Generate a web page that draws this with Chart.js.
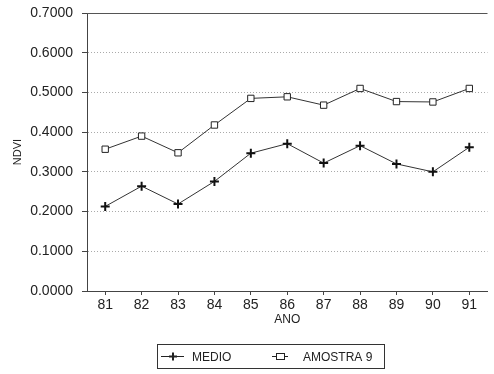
<!DOCTYPE html>
<html><head><meta charset="utf-8">
<script src="https://cdn.jsdelivr.net/npm/chart.js@4/dist/chart.umd.min.js"></script>
<style>html,body{margin:0;padding:0;background:#fff}#wrap{width:494px;height:374px;position:relative}</style>
</head><body><div id="wrap"><canvas id="c" width="494" height="374"></canvas></div>
<script>
const years = ['81','82','83','84','85','86','87','88','89','90','91'];
const medio = [0.213,0.264,0.219,0.276,0.347,0.371,0.322,0.366,0.320,0.300,0.362];
const amostra9 = [0.357,0.390,0.348,0.418,0.485,0.489,0.468,0.510,0.477,0.476,0.510];
const seriesNames = ['MEDIO','AMOSTRA 9'];
const yTicks = [0,0.1,0.2,0.3,0.4,0.5,0.6,0.7];

const FONT = 'Liberation Sans, Arial, sans-serif';
const frame = {
  id:'frame',
  afterDraw(chart){
    const {ctx, chartArea:a} = chart;
    ctx.save();
    ctx.strokeStyle='#555'; ctx.lineWidth=1;
    ctx.beginPath(); ctx.moveTo(a.left, a.top+0.5); ctx.lineTo(a.right, a.top+0.5); ctx.stroke();
    // legend box
    const bx=157.5, by=344.5, bw=227, bh=24;
    ctx.strokeStyle='#333';
    ctx.strokeRect(bx,by,bw,bh);
    const cy = by+bh/2;
    ctx.font='12px '+FONT; ctx.fillStyle='#222'; ctx.textBaseline='middle';
    const items=[{x1:161,x2:184,m:173,t:192},{x1:272,x2:288,m:280,t:303}];
    chart.data.datasets.forEach((ds,i)=>{
      const it=items[i];
      ctx.strokeStyle='#222'; ctx.lineWidth=1;
      ctx.beginPath(); ctx.moveTo(it.x1,cy); ctx.lineTo(it.x2,cy); ctx.stroke();
      if(i===0){
        ctx.lineWidth=2;
        ctx.beginPath(); ctx.moveTo(it.m-4,cy); ctx.lineTo(it.m+4,cy); ctx.moveTo(it.m,cy-4); ctx.lineTo(it.m,cy+4); ctx.stroke();
      } else {
        ctx.fillStyle='#fff'; ctx.fillRect(it.m-4,cy-3.5,8,7);
        ctx.lineWidth=1; ctx.strokeRect(it.m-4+0.5,cy-3.5+0.5,8,6);
      }
      ctx.fillStyle='#222';
      ctx.fillText(ds.label, it.t, cy+1);
    });
    ctx.restore();
  }
};

new Chart(document.getElementById('c'), {
  type:'line',
  data:{labels:years, datasets:[
    {label:seriesNames[0], data:medio, borderColor:'#333', borderWidth:1, pointStyle:'cross', pointRadius:4.5, pointBorderWidth:2, pointBorderColor:'#111', pointBackgroundColor:'#111', tension:0},
    {label:seriesNames[1], data:amostra9, borderColor:'#333', borderWidth:1, pointStyle:'rect', pointRadius:4.5, pointBorderWidth:1, pointBorderColor:'#222', pointBackgroundColor:'#fff', tension:0}
  ]},
  options:{
    responsive:false, animation:false, devicePixelRatio:1,
    layout:{padding:{top:13,right:0,bottom:47,left:0}},
    plugins:{legend:{display:false}, tooltip:{enabled:false}},
    scales:{
      x:{
        offset:true,
        grid:{display:true, drawOnChartArea:false, drawTicks:true, tickLength:4, color:'#444'},
        border:{display:true,color:'#444',width:1},
        ticks:{color:'#222', font:{family:FONT,size:14}, padding:2, maxRotation:0},
        title:{display:true,text:'ANO',color:'#222',font:{family:FONT,size:12},padding:{top:4,bottom:0}},
        afterFit(s){ s.height=36; s.paddingLeft=0; s.paddingRight=0; }
      },
      y:{
        min:0,max:0.7,
        afterBuildTicks(s){ s.ticks = yTicks.map(v=>({value:v})); },
        grid:{color:(c)=> (c.tick && (c.tick.value===0||c.tick.value===0.7)) ? 'rgba(0,0,0,0)' : '#aaa', lineWidth:1, drawTicks:true, tickLength:5, tickColor:'#444'},
        border:{display:true,color:'#444',width:1,dash:[1,2]},
        ticks:{color:'#222', font:{family:FONT,size:14}, padding:9, callback:(v)=>Number(v).toFixed(4)},
        title:{display:true,text:'NDVI',color:'#222',font:{family:FONT,size:11},padding:{top:11,bottom:4}},
        afterFit(s){ s.width=87; s.paddingTop=0; s.paddingBottom=0; }
      }
    }
  },
  plugins:[frame]
});
</script></body></html>
